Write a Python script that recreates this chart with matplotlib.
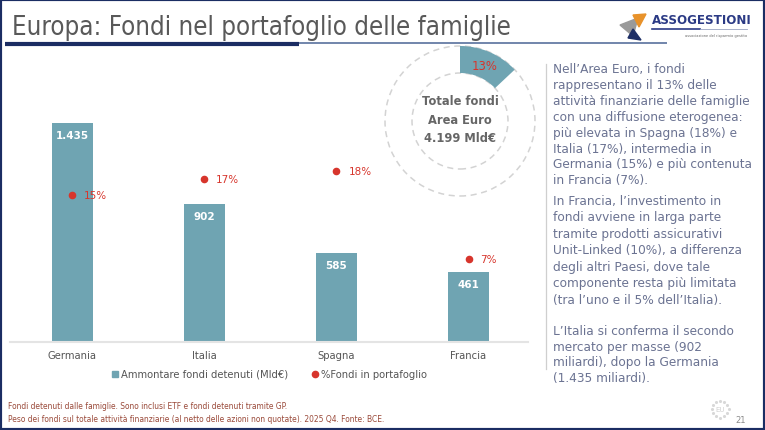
import matplotlib
matplotlib.use("Agg")
import matplotlib.pyplot as plt
from matplotlib.patches import Wedge, Circle, Polygon, Rectangle
from matplotlib.lines import Line2D
import numpy as np

# ---------------- data ----------------
categories = ["Germania", "Italia", "Spagna", "Francia"]
fund_amounts = [1435, 902, 585, 461]
amount_labels = ["1.435", "902", "585", "461"]
portfolio_share = [15, 17, 18, 7]
share_labels = ["15%", "17%", "18%", "7%"]
euro_area_share = 13
euro_area_share_label = "13%"
euro_area_total_label = "Totale fondi\nArea Euro\n4.199 Mld€"
legend_labels = ["Ammontare fondi detenuti (Mld€)", "%Fondi in portafoglio"]

title = "Europa: Fondi nel portafoglio delle famiglie"
paragraphs = [
    ["Nell’Area Euro, i fondi",
     "rappresentano il 13% delle",
     "attività finanziarie delle famiglie",
     "con una diffusione eterogenea:",
     "più elevata in Spagna (18%) e",
     "Italia (17%), intermedia in",
     "Germania (15%) e più contenuta",
     "in Francia (7%)."],
    ["In Francia, l’investimento in",
     "fondi avviene in larga parte",
     "tramite prodotti assicurativi",
     "Unit-Linked (10%), a differenza",
     "degli altri Paesi, dove tale",
     "componente resta più limitata",
     "(tra l’uno e il 5% dell’Italia)."],
    ["L’Italia si conferma il secondo",
     "mercato per masse (902",
     "miliardi), dopo la Germania",
     "(1.435 miliardi)."],
]
footnotes = [
    "Fondi detenuti dalle famiglie. Sono inclusi ETF e fondi detenuti tramite GP.",
    "Peso dei fondi sul totale attività finanziarie (al netto delle azioni non quotate). 2025 Q4. Fonte: BCE.",
]
page_number = "21"

# ---------------- style ----------------
W, H = 765, 431
BAR = "#6fa4b2"
RED = "#d7352c"
NAVY = "#1b2d63"
TEXT = "#6b7392"
GRAY = "#595959"


def fx(x):
    return x / W


def fy(y):
    return 1 - y / H


fig = plt.figure(figsize=(W / 100, H / 100), dpi=100)
fig.patch.set_facecolor("white")

# ---------------- bar chart ----------------
L, R, B, T = 10, 528, 343, 100
ax = fig.add_axes([fx(L), fy(B), (R - L) / W, (B - T) / H])
x = np.arange(len(categories))
ax.bar(x, fund_amounts, width=0.31, color=BAR, zorder=2)
ax.set_xlim(-0.47, 3.45)
ax.set_ylim(0, (B - T) / 0.1526)
for s in ["top", "right", "left"]:
    ax.spines[s].set_visible(False)
ax.spines["bottom"].set_color("#e4e4e4")
ax.spines["bottom"].set_linewidth(1.5)
ax.set_yticks([])
ax.set_xticks(x)
ax.set_xticklabels(categories, fontsize=7.2, color="#555555")
ax.tick_params(axis="x", length=0, pad=6)
ax.patch.set_alpha(0)
for i, (v, lab) in enumerate(zip(fund_amounts, amount_labels)):
    ax.annotate(lab, (i, v), xytext=(0, -8.6), textcoords="offset points",
                ha="center", va="center", color="white", fontsize=7.5,
                fontweight="semibold", zorder=3)

ax2 = ax.twinx()
ax2.set_ylim(-27 / 8, 216 / 8)
ax2.scatter(x, portfolio_share, s=20, color=RED, zorder=4)
for i, (v, lab) in enumerate(zip(portfolio_share, share_labels)):
    ax2.annotate(lab, (i, v), xytext=(8.6, 0), textcoords="offset points",
                 ha="left", va="center", color=RED, fontsize=7.5)
ax2.set_yticks([])
for s in ax2.spines.values():
    s.set_visible(False)

handles = [Line2D([], [], marker="s", linestyle="none", color=BAR, markersize=4.5),
           Line2D([], [], marker="o", linestyle="none", color=RED, markersize=4.5)]
fig.legend(handles, legend_labels, loc="center", bbox_to_anchor=(fx(269), fy(375)),
           ncol=2, frameon=False, fontsize=7.2, handlelength=0.8, handletextpad=0.2,
           columnspacing=2.2, labelcolor="#555555")

# ---------------- donut ----------------
cx, cy, ro, ri = 460, 122, 75, 48
axd = fig.add_axes([fx(cx - 80), fy(cy + 80), 160 / W, 160 / H])
axd.set_xlim(-80, 80)
axd.set_ylim(-80, 80)
axd.set_aspect("equal")
axd.axis("off")
axd.patch.set_alpha(0)
for r in (ro, ri):
    axd.add_patch(Circle((0, 0), r, fill=False, edgecolor="#d3d3d3", lw=1.1,
                         linestyle=(0, (4, 3))))
axd.add_patch(Wedge((0, 0), ro, 90 - 360 * euro_area_share / 100, 90,
                    width=ro - ri, facecolor=BAR, edgecolor="none", zorder=3))
axd.text(25, 55, euro_area_share_label, color=RED, fontsize=8.4, ha="center",
         va="center", zorder=4)
axd.text(0, 2, euro_area_total_label, color="#666666", fontsize=8.3,
         fontweight="bold", ha="center", va="center", linespacing=1.55)

# ---------------- title & header ----------------
fig.text(fx(12), fy(35), title, fontsize=18.5, color=GRAY, va="baseline",
         fontstretch="condensed")
fig.add_artist(Line2D([fx(5), fx(299)], [fy(45), fy(45)], lw=3, color=NAVY,
                      solid_capstyle="butt"))
fig.add_artist(Line2D([fx(299), fx(667)], [fy(43.5), fy(43.5)], lw=1.1,
                      color="#4a6594", solid_capstyle="butt"))

# logo
fig.add_artist(Polygon([[fx(620), fy(26)], [fx(638), fy(19)], [fx(633), fy(37)]],
                       closed=True, color="#9a9a9a", transform=fig.transFigure))
fig.add_artist(Polygon([[fx(633), fy(16)], [fx(646), fy(15)], [fx(639), fy(28)]],
                       closed=True, color="#e8922a", transform=fig.transFigure))
fig.add_artist(Polygon([[fx(633), fy(30)], [fx(641), fy(41)], [fx(628), fy(39)]],
                       closed=True, color="#1e2f66", transform=fig.transFigure))
fig.text(fx(652), fy(20), "ASSOGESTIONI", fontsize=8.6, color="#2b3a85",
         va="center", ha="left", fontweight="semibold")
fig.add_artist(Line2D([fx(652), fx(700)], [fy(30), fy(30)], lw=1.2, color="#2b3a85"))
fig.add_artist(Line2D([fx(700), fx(747)], [fy(30), fy(30)], lw=0.6, color="#9aa3c0"))
fig.text(fx(747), fy(36), "associazione del risparmio gestito", fontsize=2.6,
         color="#666666", ha="right", va="center")

# ---------------- right text panel ----------------
fig.add_artist(Line2D([fx(546), fx(546)], [fy(65), fy(370)], lw=0.9, color="#cfcfcf"))
starts = [70, 201, 331.5]
spacings = [15.8, 16.6, 15.6]
for start, sp, lines in zip(starts, spacings, paragraphs):
    for k, line in enumerate(lines):
        fig.text(fx(553), fy(start + k * sp), line, fontsize=8.7, color=TEXT,
                 ha="left", va="center")

# ---------------- footer ----------------
for k, note in enumerate(footnotes):
    fig.text(fx(8), fy(407 + k * 12.5), note, fontsize=6.05, color="#9a4a3a",
             ha="left", va="center", fontstretch="condensed")

ang = np.linspace(0, 2 * np.pi, 13)[:-1]
axe = fig.add_axes([fx(708), fy(422), 24 / W, 24 / H])
axe.set_xlim(-12, 12)
axe.set_ylim(-12, 12)
axe.axis("off")
axe.scatter(8.5 * np.cos(ang), 8.5 * np.sin(ang), s=1.5, color="#d8d8d8")
axe.text(0, 0, "EU", fontsize=5, color="#d0d0d0", ha="center", va="center")
fig.text(fx(741), fy(421), page_number, fontsize=6, color="#8a8a8a",
         ha="center", va="center")

# frame
fig.add_artist(Rectangle((0, 0), 1, 1, transform=fig.transFigure, fill=False,
                         edgecolor=NAVY, lw=3))

fig.savefig("out.png", dpi=100, facecolor="white")
